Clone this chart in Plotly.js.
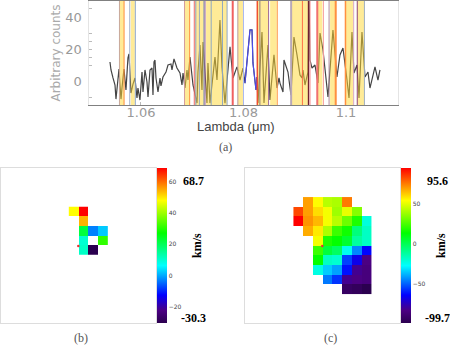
<!DOCTYPE html>
<html>
<head>
<meta charset="utf-8">
<script src="https://cdn.plot.ly/plotly-3.0.1.min.js"></script>
<style>
html, body { margin: 0; padding: 0; background: #fff; }
</style>
</head>
<body>
<div id="plotArea" style="width:450px;height:345px;"></div>
<script>
// spectrum, panel (a)
var lambda = [1.05395,1.05415,1.05454,1.05493,1.05512,1.05532,1.05571,1.0559,1.0561,1.05629,1.05668,1.05707,1.05746,1.05766,1.05785,1.05805,1.05844,
    1.05883,1.05922,1.05941,1.0598,1.0602,1.06039,1.06078,1.06117,1.06137,1.06176,1.06215,1.06234,1.06254,1.06273,1.06293,1.06332,1.06371,1.0639,1.06429,1.06488,1.06527,1.06585,1.06605,1.06644,1.06702,1.06761,1.068,1.0682,1.06859,1.06898,1.06917,1.06956,
    1.07015,1.07093,1.07112,1.07151,1.0719,1.0721,1.07288,1.07307,1.07346,1.07444,1.07483,1.07541,1.0758,1.07639,1.07737,1.07795,1.07873,1.07932,1.0799,1.08029,1.08127,1.08166,1.08185,1.08244,1.08263,1.08283,1.08361,1.084,1.08478,1.08517,
    1.08595,1.08654,1.08693,1.08712,1.08771,1.0879,1.08868,1.08927,1.08985,1.09044,1.09102,1.09141,1.09161,1.092,1.09259,1.09278,1.09298,1.09337,1.09395,1.09454,1.09493,
    1.09551,1.09649,1.09746,1.09824,1.09883,1.09941,1.1002,1.10059,1.10117,1.10156,1.10215,1.10254,1.10312,1.10371,1.10429,1.10468,1.10566,1.10624,1.10663];
var counts = [11.9,6.9,1.9,-2.5,-11.3,-5.6,7.5,-2.5,-11.3,-4.4,7.5,-5.6,14.4,16.9,3.8,-7.5,-1.9,
    1.9,-10.6,-4.4,-11.9,5.6,-6.9,6.9,-0.6,-10,6.9,8.1,-8.8,11.9,13.1,1.9,-6.9,1.9,-3.1,2.5,5.6,10,10.6,6.9,13.8,8.1,5,-2.5,5,-4.4,6.9,0.6,15,
    -2.5,-13.8,5.6,22.5,-5.6,24.4,-13.8,11.3,-13.8,15,0.6,38.1,8.8,-13.8,21.3,1.9,8.8,0.6,8.1,-1.3,31.9,31.9,11.3,-5.6,2.5,-13.8,30.6,-13.8,22.5,-11.9,
    16.3,-4.4,1.9,-1.3,-6.9,13.1,5.6,-8.8,27.5,16.3,3.8,1.9,6.9,-2.5,5.6,55,13.1,8.1,10,-1.3,30,
    19.4,-10,31.9,2.5,16.3,20.6,0.6,-10.6,30.6,5,10,-10.6,30.6,2.5,5.6,-4.4,8.8,0.6,6.9];

// the detected line, drawn in blue
var lineLambda = [1.08029,1.08127,1.08166,1.08185,1.08244,1.08263];
var lineCounts = [-1.3,31.9,31.9,11.3,-5.6,2.5];

// masked wavelength bands
var bandStart = [1.0558,1.058,1.0685,1.0705,1.0727,1.0737,1.0758,1.0789,1.0827,1.0852,1.0893,1.0916,1.0945,1.0969,1.1,1.1023];
var bandEnd = [1.0567,1.0588,1.0695,1.0723,1.0737,1.0758,1.0768,1.0799,1.0848,1.0865,1.0915,1.0926,1.0954,1.098,1.1014,1.1036];

// thin vertical lines at the band edges
var edgeLambda = [1.0558,1.0567,1.0578,1.0589,1.0685,1.0695,1.0704,1.0707,1.0714,1.0723,1.0725,1.0737,1.0759,1.0768,1.0779,1.0789,1.08,1.0827,1.0832,1.0849,1.0866,1.0893,1.0915,1.0927,1.093,1.0944,1.0956,1.0967,1.098,1.0999,1.1015,1.1022,1.1036];
var edgeColor = ["#c8a89a","#ff8c3c","#a8b4cc","#8fa8cc","#d49a9a","#ff9040","#f06868","#8fa0c8","#9aaac0","#6a86b8","#a06a90","#8fa8c0","#8fa8c0","#8fa8c8","#f06060","#b89aa0","#a8b8f0","#f05030","#8a7a80","#a06a90","#ff9a50","#b8a8b8","#ff7040","#702030","#f8a0a0","#f07070","#f8a0a0","#b08a98","#ff9040","#ff9040","#d8a8c0","#904060","#a0b0c0"];
var edgeWidth = [1,1,1,1,1,1,1,1,1,1,1,1,1,1,2,1,1,1.5,1,1,1,2,1,1.5,1,2,1,1,2,1.5,1,1,1];

// velocity map, panel (b)
var bCol = [7,8,8,8,9,10,8,10,8,9];
var bRow = [11,11,10,9,9,9,8,8,7,7];
var bVel = [48,68.7,54,22,-3,2.4,10,31,11,-30.3];

// velocity map, panel (c)
var cCol = [6,7,8,9,10, 5,6,7,8,9,10,11, 5,6,7,8,9,10,11,12, 6,7,8,9,10,11,12, 7,8,9,10,11,12, 7,8,9,10,11,12, 7,8,9,10,11,12, 7,8,9,10,11,12, 8,9,10,11,12, 10,11,12];
var cRow = [12,12,12,12,12, 11,11,11,11,11,11,11, 10,10,10,10,10,10,10,10, 9,9,9,9,9,9,9, 8,8,8,8,8,8, 7,7,7,7,7,7, 6,6,6,6,6,6, 5,5,5,5,5,5, 4,4,4,4,4, 3,3,3];
var cVel = [70,55,43,41,76, 84,70,60,53,39,51,35, 95.6,72,66,53,43,31,18,-22, 68,58,41,23,16,-6,-18, 53,18,14,6,-12,-18, 23,4,-2,-25,-45,-64, 14,-18,-20,-55,-68,-84, -23,-35,-41,-62,-82,-86, -47,-57,-82,-84,-86, -94,-96,-99.7];

var rainbow = [[0,"#2b004f"],[0.08,"#4b0082"],[0.18,"#0000ff"],[0.37,"#00ffff"],[0.58,"#00ff00"],[0.79,"#ffff00"],[1,"#ff0000"]];

function colorbar(x, ticks) {
    return {
        x: x / 450, xanchor: "left", xpad: 0,
        y: 1 - 245.5 / 345, yanchor: "middle", ypad: 0,
        len: 155 / 345, thickness: 10,
        outlinewidth: 0, ticks: "", tickvals: ticks,
        tickfont: {family: "DejaVu Sans", size: 6, color: "#444"}
    };
}

var traces = [
    {x: lambda, y: counts, type: "scatter", mode: "lines", line: {color: "#444", width: 1.2}, xaxis: "x", yaxis: "y"},
    {x: lineLambda, y: lineCounts, type: "scatter", mode: "lines", line: {color: "#4a4af0", width: 1.1}, xaxis: "x", yaxis: "y"},
    {x: bCol, y: bRow, z: bVel, type: "heatmap", colorscale: rainbow, zmin: -30.3, zmax: 68.7, colorbar: colorbar(157, [-20, 0, 20, 40, 60]), xaxis: "x2", yaxis: "y2"},
    {x: [7.48], y: [7.45], type: "scatter", mode: "markers", marker: {color: "#f03030", size: 2.5}, xaxis: "x2", yaxis: "y2"},
    {x: cCol, y: cRow, z: cVel, type: "heatmap", colorscale: rainbow, zmin: -99.7, zmax: 95.6, colorbar: colorbar(400.5, [-50, 0, 50]), xaxis: "x3", yaxis: "y3"},
    {x: [7.48], y: [7.45], type: "scatter", mode: "markers", marker: {color: "#f03030", size: 2.5}, xaxis: "x3", yaxis: "y3"}
];

var shapes = [];
bandStart.forEach(function (start, i) {
    shapes.push({type: "rect", xref: "x", yref: "paper", x0: start, x1: bandEnd[i], y0: 1 - 105 / 345, y1: 1 - 1 / 345,
        fillcolor: "#ffd830", opacity: 0.5, line: {width: 0}, layer: "above"});
});
edgeLambda.forEach(function (pos, i) {
    shapes.push({type: "line", xref: "x", yref: "paper", x0: pos, x1: pos, y0: 1 - 105 / 345, y1: 1 - 1 / 345,
        line: {color: edgeColor[i], width: edgeWidth[i]}, layer: "above"});
});

function label(text, x, y, font, angle) {
    return {text: text, xref: "paper", yref: "paper", x: x / 450, y: 1 - y / 345, xanchor: "center", yanchor: "middle",
        showarrow: false, font: font, textangle: angle || 0};
}
var boldFont = {family: "Liberation Serif", size: 12, color: "#000", weight: "bold"};
var capFont = {family: "Liberation Serif", size: 12, color: "#555"};

var blankAxis = {range: [-0.5, 15.5], showgrid: false, zeroline: false, showticklabels: false, ticks: "",
    showline: true, mirror: true, linecolor: "#ddd", linewidth: 1};

var layout = {
    width: 450, height: 345,
    margin: {l: 0, r: 0, t: 0, b: 0, autoexpand: false},
    paper_bgcolor: "#fff", plot_bgcolor: "#fff",
    showlegend: false,
    xaxis: {
        domain: [88.5 / 450, 398 / 450], range: [1.04976, 1.11015],
        tickvals: [1.06, 1.08, 1.1], ticktext: ["1.06", "1.08", "1.1"],
        ticks: "inside", ticklen: 3, tickcolor: "#bbb", ticklabelstandoff: -5, showgrid: false, zeroline: false,
        showline: true, mirror: true, linecolor: "#808080", linewidth: 1,
        tickfont: {family: "DejaVu Sans", size: 13, color: "#999"},
        anchor: "y"
    },
    yaxis: {
        domain: [1 - 105 / 345, 1 - 1 / 345], range: [-15, 50],
        tickvals: [0, 20, 40], ticks: "", ticklabelstandoff: 3, showgrid: false, zeroline: false,
        showline: true, mirror: true, linecolor: "#e4e4e4", linewidth: 1,
        minor: {tickvals: [-10, 9.4, 15, 20, 24.4, 30, 45.4], ticks: "inside", ticklen: 3, tickcolor: "#bbb", showgrid: false},
        tickfont: {family: "DejaVu Sans", size: 13, color: "#999"},
        title: {text: "Arbitrary counts", standoff: 2, font: {family: "DejaVu Sans", size: 12, color: "#aaa"}},
        anchor: "x"
    },
    xaxis2: Object.assign({}, blankAxis, {domain: [1 / 450, 156 / 450], anchor: "y2"}),
    yaxis2: Object.assign({}, blankAxis, {domain: [1 - 323 / 345, 1 - 168 / 345], anchor: "x2"}),
    xaxis3: Object.assign({}, blankAxis, {domain: [245 / 450, 400 / 450], anchor: "y3"}),
    yaxis3: Object.assign({}, blankAxis, {domain: [1 - 323 / 345, 1 - 168 / 345], anchor: "x3"}),
    shapes: shapes,
    annotations: [
        label("Lambda (μm)", 235.5, 126, {family: "Liberation Sans", size: 13, color: "#444"}),
        label("(a)", 225, 147, capFont),
        label("(b)", 81, 338, capFont),
        label("(c)", 330, 338, capFont),
        label("68.7", 193, 181, boldFont),
        label("-30.3", 193, 318, boldFont),
        label("km/s", 197, 246, boldFont, -90),
        label("95.6", 437, 181, boldFont),
        label("-99.7", 437, 318, boldFont),
        label("km/s", 441, 246, boldFont, -90)
    ]
};

Plotly.newPlot("plotArea", traces, layout, {displayModeBar: false, staticPlot: true});
</script>
</body>
</html>
